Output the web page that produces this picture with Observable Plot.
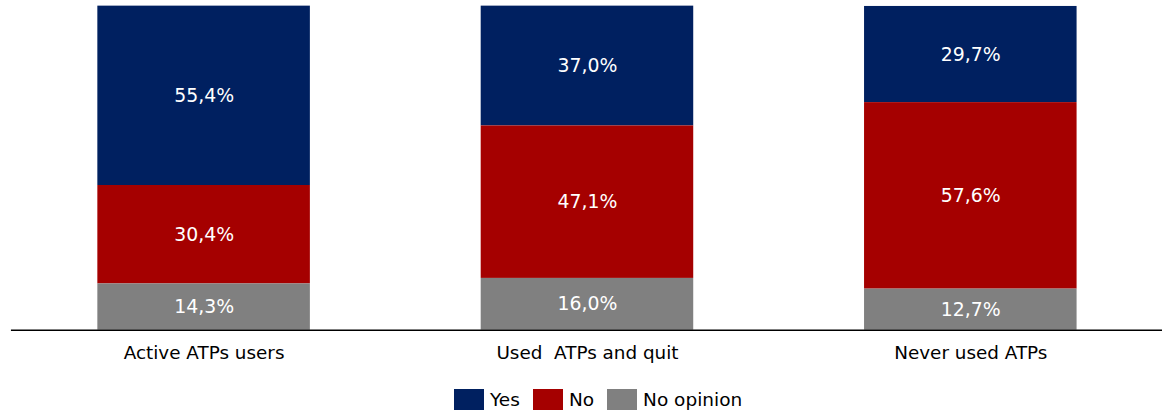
<!DOCTYPE html>
<html>
<head>
<meta charset="utf-8">
<script src="https://cdn.jsdelivr.net/npm/d3@7"></script>
<script src="https://cdn.jsdelivr.net/npm/@observablehq/plot@0.6"></script>
<style>
  html, body { margin: 0; padding: 0; background: #fff; overflow: hidden; }
  body { width: 1162px; height: 415px; position: relative; font-family: "DejaVu Sans", sans-serif; }
  #chart { position: absolute; left: 0; top: 0; }
  #legend { position: absolute; left: 454px; top: 389px; display: flex; align-items: center; font-size: 18.5px; color: #000; line-height: 21px; }
  .item { display: flex; align-items: center; margin-right: 13px; }
  .sw { width: 30px; height: 21px; margin-right: 6px; }
</style>
</head>
<body>
<div id="chart"></div>
<div id="legend"></div>
<script>
const categories = ["Active ATPs users", "Used  ATPs and quit", "Never used ATPs"];
const seriesNames = ["Yes", "No", "No opinion"];
const yesValues = [55.4, 37.0, 29.7];
const noValues = [30.4, 47.1, 57.6];
const noOpinionValues = [14.3, 16.0, 12.7];
const colors = ["#002060", "#A50000", "#808080"];

const valuesBySeries = {"Yes": yesValues, "No": noValues, "No opinion": noOpinionValues};
const data = [];
for (const s of seriesNames) {
  categories.forEach((c, i) => data.push({category: c, series: s, value: valuesBySeries[s][i]}));
}
const fmt = v => v.toFixed(1).replace(".", ",") + "%";
const stackOpts = {x: "category", y: "value", order: ["No opinion", "No", "Yes"]};

const plot = Plot.plot({
  width: 1170,
  height: 376,
  marginLeft: 11,
  marginRight: 0,
  marginTop: 6,
  marginBottom: 44,
  style: {fontFamily: '"DejaVu Sans", sans-serif', fontSize: "18.5px", overflow: "visible"},
  x: {domain: categories, paddingInner: 0.446, paddingOuter: 0.223, label: null, tickSize: 0, tickPadding: 16},
  y: {domain: [0, 100], axis: null},
  color: {domain: seriesNames, range: colors},
  marks: [
    Plot.barY(data, Plot.stackY({...stackOpts, fill: "series", z: "series"})),
    Plot.text(data, Plot.stackY({...stackOpts, z: "series", y: "value", text: d => fmt(d.value), fill: "white", fontSize: 19})),
    Plot.ruleY([0], {stroke: "#000", strokeWidth: 1.5})
  ]
});
document.getElementById("chart").appendChild(plot);

const legend = document.getElementById("legend");
seriesNames.forEach((s, i) => {
  const item = document.createElement("div");
  item.className = "item";
  const sw = document.createElement("div");
  sw.className = "sw";
  sw.style.background = colors[i];
  const lab = document.createElement("span");
  lab.textContent = s;
  item.appendChild(sw);
  item.appendChild(lab);
  legend.appendChild(item);
});
</script>
</body>
</html>
